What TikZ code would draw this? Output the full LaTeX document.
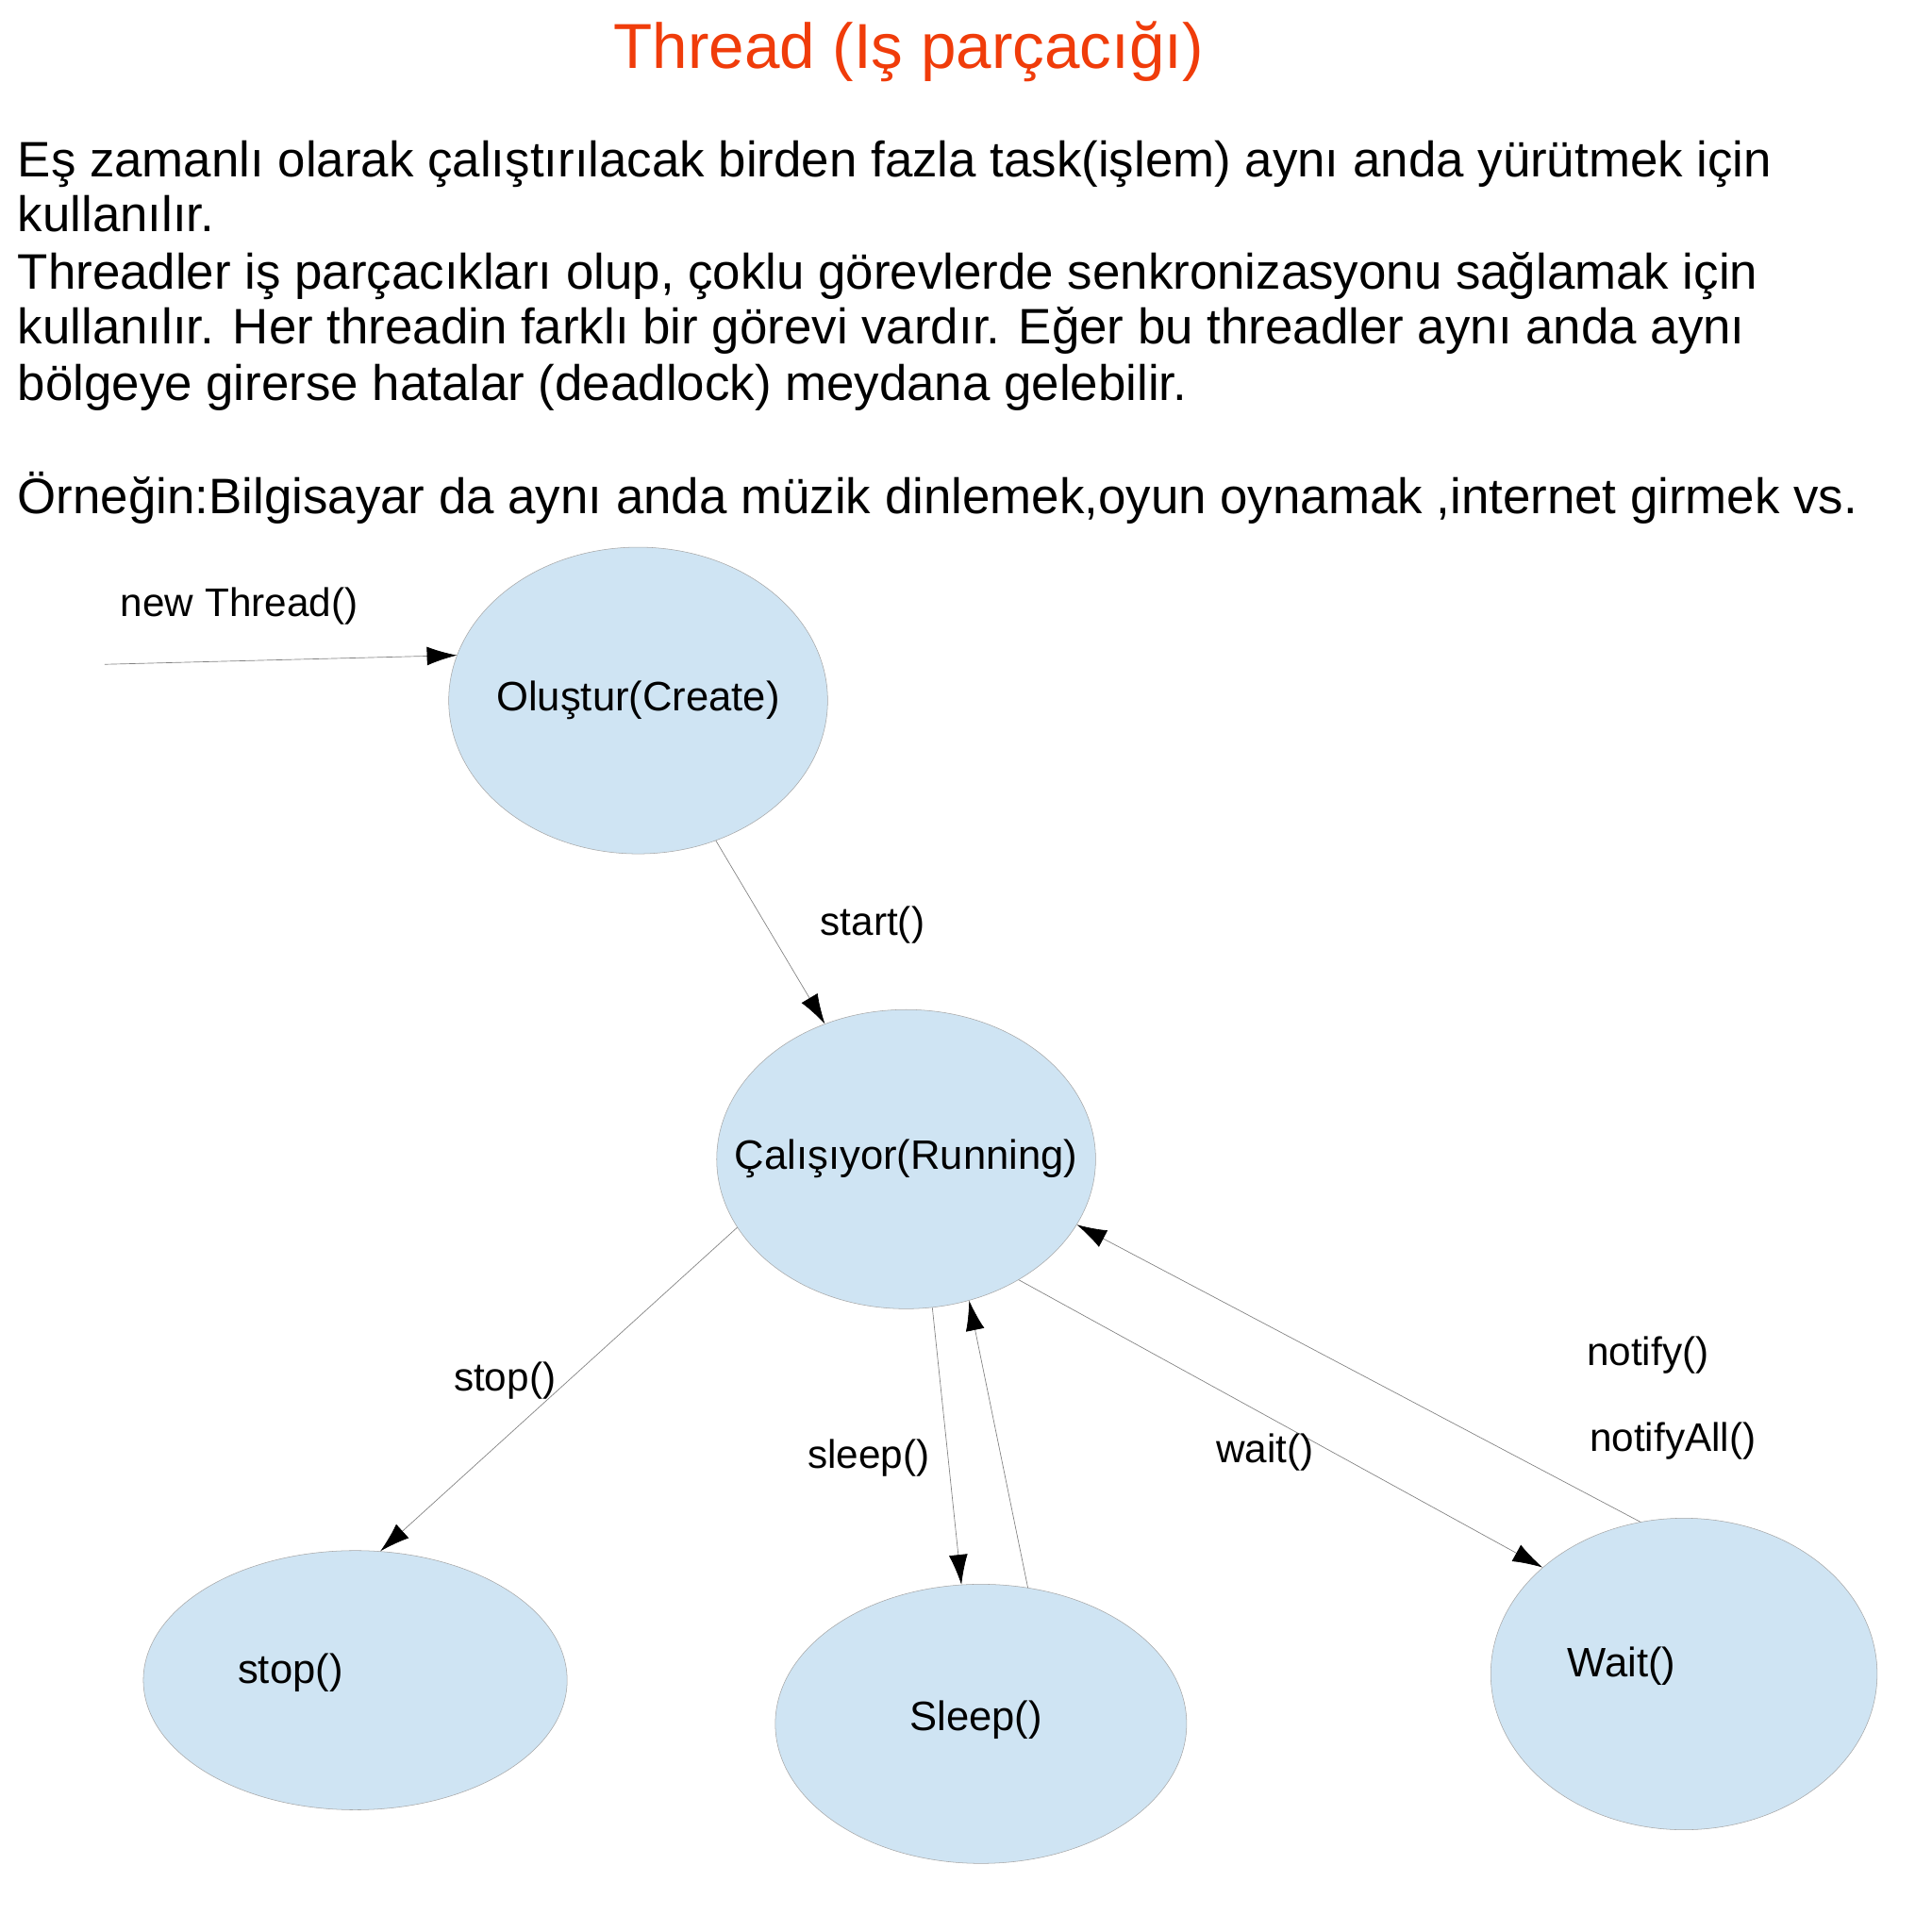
\documentclass[tikz,border=0pt]{standalone}
\usepackage{fontspec}
\setmainfont{Liberation Sans}
\usetikzlibrary{shapes.geometric,arrows.meta}
\definecolor{ellfill}{RGB}{207,228,243}
\definecolor{ttl}{RGB}{240,60,10}
\begin{document}
\begin{tikzpicture}[x=1pt,y=-1pt,
  st/.style={ellipse,draw=gray!70,line width=0.4pt,fill=ellfill,inner sep=0pt},
  body/.style={anchor=base west,inner sep=0pt,font=\fontsize{40}{44}\selectfont},
  lbl/.style={inner sep=0pt,font=\fontsize{32}{36}\selectfont},
  txt/.style={inner sep=0pt,font=\fontsize{33}{37}\selectfont},
  conn/.style={draw=gray,line width=0.5pt,-{Latex[length=24pt,width=15pt,black]}}]
\useasboundingbox[fill=white] (0,0) rectangle (1550,1536);
\node[anchor=base,inner sep=0pt,text=ttl,font=\fontsize{51}{55}\selectfont] (title) at (729,55) {Thread (Iş parçacığı)};
\node[body] (l1) at (14,142) {Eş zamanlı olarak çalıştırılacak birden fazla task(işlem) aynı anda yürütmek için};
\node[body] (l2) at (14,186) {kullanılır.};
\node[body] (l3) at (14,232) {Threadler iş parçacıkları olup, çoklu görevlerde senkronizasyonu sağlamak için};
\node[body] (l4) at (14,276) {kullanılır. Her threadin farklı bir görevi vardır. Eğer bu threadler aynı anda aynı};
\node[body] (l5) at (14,321) {bölgeye girerse hatalar (deadlock) meydana gelebilir.};
\node[body] (l6) at (14,412) {Örneğin:Bilgisayar da aynı anda müzik dinlemek,oyun oynamak ,internet girmek vs.};

\node[st,minimum width=304pt,minimum height=246pt] (create) at (512,562) {};
\node[st,minimum width=304pt,minimum height=240pt] (run) at (727,930) {};
\node[st,minimum width=340pt,minimum height=208pt] (stop) at (285,1348) {};
\node[st,minimum width=330pt,minimum height=224pt] (sleep) at (787,1383) {};
\node[st,minimum width=310pt,minimum height=250pt] (wait) at (1351,1343) {};

\node[txt] (tc) at (512,562) {Oluştur(Create)};
\node[txt] (tr) at (727,930) {Çalışıyor(Running)};
\node[txt] (ts) at (233,1342) {stop()};
\node[txt] (tsl) at (783,1380) {Sleep()};
\node[txt] (tw) at (1301,1337) {Wait()};

\coordinate (nt) at (84,533);
\draw[conn] (nt) -- (create.166);
\draw[conn] (create.-61) -- (run.121);
\draw[conn] (run.-158) -- (stop.79);
\draw[conn] (run.-80) -- (sleep.98);
\draw[conn] (sleep.71) -- (run.-66);
\draw[conn] (run.-47) -- (wait.143);
\draw[conn] (wait.106) -- (run.-21);

\node[lbl] (a1) at (192,486) {new Thread()};
\node[lbl] (a2) at (700,742) {start()};
\node[lbl] (a3) at (405,1108) {stop()};
\node[lbl] (a4) at (697,1170) {sleep()};
\node[lbl] (a5) at (1015,1165) {wait()};
\node[lbl] (a6) at (1322,1087) {notify()};
\node[lbl] (a7) at (1342,1156) {notifyAll()};
\end{tikzpicture}
\end{document}
